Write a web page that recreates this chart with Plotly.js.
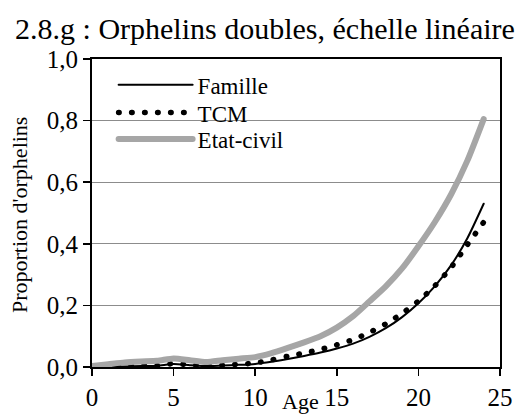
<!DOCTYPE html>
<html>
<head>
<meta charset="utf-8">
<script src="https://cdn.plot.ly/plotly-3.0.1.min.js"></script>
<style>
html,body{margin:0;padding:0;background:#fff;}
#chart{width:515px;height:417px;}
.js-line{stroke-linecap:round;stroke-linejoin:round;}
#chart text{font-family:'Liberation Serif','Times New Roman',serif !important;}
</style>
</head>
<body>
<div id="chart"></div>
<script>
const ages = [0,1,2,3,4,5,6,7,8,9,10,11,12,13,14,15,16,17,18,19,20,21,22,23,24];
const famille = [0.000,0.001,0.002,0.003,0.004,0.010,0.006,0.003,0.005,0.007,0.010,0.017,0.026,0.036,0.047,0.060,0.076,0.098,0.126,0.162,0.207,0.262,0.330,0.418,0.530];
const tcm = [0.000,0.001,0.003,0.004,0.005,0.011,0.007,0.004,0.006,0.009,0.013,0.023,0.035,0.045,0.057,0.072,0.089,0.112,0.140,0.174,0.214,0.263,0.323,0.397,0.470];
const etatCivil = [0.003,0.009,0.015,0.018,0.020,0.028,0.022,0.016,0.022,0.027,0.032,0.045,0.062,0.080,0.100,0.128,0.165,0.213,0.262,0.320,0.392,0.470,0.560,0.670,0.805];
const seriesNames = ['Famille','TCM','Etat-civil'];
const yTicks = [0,0.2,0.4,0.6,0.8,1.0];
const xTicks = [0,5,10,15,20,25];

const FONT = 'Liberation Serif';

const traces = [
  {x: ages, y: famille, name: seriesNames[0], type: 'scatter', mode: 'lines', legend: 'legend',
   line: {color: '#000000', width: 2, shape: 'spline', smoothing: 0.6}},
  {x: ages, y: tcm, name: seriesNames[1], type: 'scatter', mode: 'lines', legend: 'legend2',
   line: {color: '#000000', width: 5.5, dash: '0.5px,12.5px', shape: 'spline', smoothing: 0.6}},
  {x: ages, y: etatCivil, name: seriesNames[2], type: 'scatter', mode: 'lines', legend: 'legend3',
   line: {color: '#a6a6a6', width: 6, shape: 'spline', smoothing: 0.6}}
];

function leg(y) {
  return {x: 0.053, y: y, xanchor: 'left', yanchor: 'middle',
          bgcolor: 'rgba(0,0,0,0)', borderwidth: 0,
          font: {family: FONT, size: 23, color: '#000'},
          itemwidth: 74};
}

const layout = {
  width: 515, height: 417,
  margin: {l: 92, r: 15, t: 59, b: 50},
  paper_bgcolor: '#ffffff', plot_bgcolor: '#ffffff',
  separators: ', ',
  font: {family: FONT, color: '#000000', size: 22},
  title: {text: '2.8.g : Orphelins doubles, échelle linéaire',
          font: {family: FONT, size: 30, color: '#000'},
          x: 0.424, xanchor: 'center', xref: 'paper',
          y: 0.931, yanchor: 'middle', yref: 'container'},
  showlegend: true,
  legend: leg(0.916),
  legend2: leg(0.826),
  legend3: leg(0.740),
  shapes: [
    {type: 'rect', xref: 'paper', yref: 'paper', x0: 0.003, x1: 0.5, y0: 0.77, y1: 0.83,
     fillcolor: '#ffffff', line: {width: 0}, layer: 'between'}
  ],
  xaxis: {range: [0, 25], tickvals: xTicks, ticks: 'outside', ticklen: 7,
          tickwidth: 1.5, tickcolor: '#000', showgrid: false, zeroline: false,
          showline: true, linecolor: '#000', linewidth: 2, mirror: true,
          ticklabelstandoff: 0,
          tickfont: {family: FONT, size: 25, color: '#000'}},
  yaxis: {range: [0, 1], tickvals: yTicks, tickformat: '.1f', ticks: 'outside',
          ticklen: 7, tickwidth: 1.5, tickcolor: '#000',
          showgrid: true, gridcolor: '#8c8c8c', gridwidth: 1, zeroline: false,
          showline: true, linecolor: '#000', linewidth: 2, mirror: true,
          tickfont: {family: FONT, size: 25, color: '#000'}},
  annotations: [
    {text: 'Age', xref: 'paper', yref: 'paper', x: 0.512, y: -0.113,
     xanchor: 'center', yanchor: 'middle', showarrow: false,
     font: {family: FONT, size: 22, color: '#000'}},
    {text: "Proportion d'orphelins", xref: 'paper', yref: 'paper', x: -0.176, y: 0.494,
     xanchor: 'center', yanchor: 'middle', textangle: -90, showarrow: false,
     font: {family: FONT, size: 22, color: '#000'}}
  ]
};

Plotly.newPlot('chart', traces, layout, {displayModeBar: false, staticPlot: true});
</script>
</body>
</html>
